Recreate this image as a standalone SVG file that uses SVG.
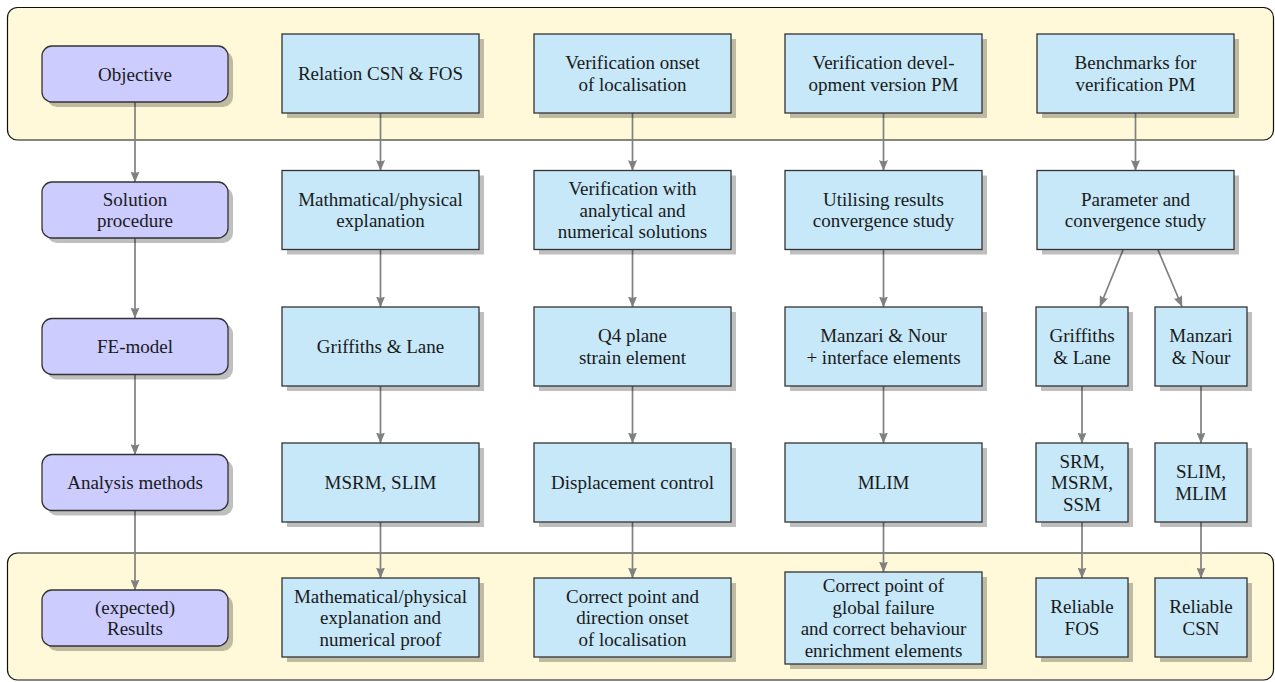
<svg xmlns="http://www.w3.org/2000/svg" width="1275" height="682" viewBox="0 0 1275 682" font-family="Liberation Serif, DejaVu Serif, serif">
<style>
.panel{fill:#fff9d9;stroke:#111;stroke-width:1.2}
.sh{fill:#000;fill-opacity:0.25}
.b{fill:#c6e8f8;stroke:#333;stroke-width:1.3}
.p{fill:#ccccff;stroke:#333;stroke-width:1.3}
text{font-size:19px;fill:#1a1a1a;text-anchor:middle}
.c line{stroke:#808080;stroke-width:1.7;marker-end:url(#ah)}
</style>
<defs>
<marker id="ah" markerUnits="userSpaceOnUse" markerWidth="11" markerHeight="9" viewBox="0 0 11 9" refX="10.5" refY="4.5" orient="auto">
<path d="M0,0 L11,4.5 L0,9 Q2.5,4.5 0,0 Z" fill="#808080"/>
</marker>
</defs>
<rect rx="10" ry="10" class="panel" x="7.5" y="7.5" width="1266" height="132.5"/>
<rect rx="10" ry="10" class="panel" x="7.5" y="553" width="1266" height="127"/>

<g class="c">
<line x1="135" y1="102" x2="135" y2="182"/>
<line x1="135" y1="238" x2="135" y2="318"/>
<line x1="135" y1="374.5" x2="135" y2="454.5"/>
<line x1="135" y1="510.5" x2="135" y2="590"/>

<line x1="380.5" y1="113" x2="380.5" y2="170.5"/>
<line x1="380.5" y1="249.5" x2="380.5" y2="307"/>
<line x1="380.5" y1="386" x2="380.5" y2="443"/>
<line x1="380.5" y1="522" x2="380.5" y2="578"/>

<line x1="632.5" y1="113" x2="632.5" y2="170.5"/>
<line x1="632.5" y1="249.5" x2="632.5" y2="307"/>
<line x1="632.5" y1="386" x2="632.5" y2="443"/>
<line x1="632.5" y1="522" x2="632.5" y2="578"/>

<line x1="883.5" y1="113" x2="883.5" y2="170.5"/>
<line x1="883.5" y1="249.5" x2="883.5" y2="307"/>
<line x1="883.5" y1="386" x2="883.5" y2="443"/>
<line x1="883.5" y1="522" x2="883.5" y2="572"/>

<line x1="1135.5" y1="113" x2="1135.5" y2="170.5"/>
<line x1="1123" y1="250" x2="1100" y2="306.5"/>
<line x1="1158" y1="250" x2="1182" y2="306.5"/>
<line x1="1082" y1="386" x2="1082" y2="443"/>
<line x1="1201" y1="386" x2="1201" y2="443"/>
<line x1="1082" y1="522" x2="1082" y2="578"/>
<line x1="1201" y1="522" x2="1201" y2="578"/>
</g>

<!-- left column -->
<g id="objective"><rect class="sh" x="47" y="51" width="186" height="56" rx="10"/><rect class="p" x="42" y="46" width="186" height="56" rx="10"/><text x="135" y="80.5">Objective</text></g>
<g id="solution"><rect class="sh" x="47" y="187" width="186" height="56" rx="10"/><rect class="p" x="42" y="182" width="186" height="56" rx="10"/><text x="135" y="205.75">Solution</text><text x="135" y="227.25">procedure</text></g>
<g id="femodel"><rect class="sh" x="47" y="323.5" width="186" height="56" rx="10"/><rect class="p" x="42" y="318.5" width="186" height="56" rx="10"/><text x="135" y="353">FE-model</text></g>
<g id="analysis"><rect class="sh" x="47" y="459.5" width="186" height="56" rx="10"/><rect class="p" x="42" y="454.5" width="186" height="56" rx="10"/><text x="135" y="489">Analysis methods</text></g>
<g id="results"><rect class="sh" x="47" y="595" width="186" height="56" rx="10"/><rect class="p" x="42" y="590" width="186" height="56" rx="10"/><text x="135" y="613.75">(expected)</text><text x="135" y="635.25">Results</text></g>

<!-- row 1 -->
<g id="r1c1"><rect class="sh" x="287" y="39" width="197" height="79"/><rect class="b" x="282" y="34" width="197" height="79"/><text x="380.5" y="80">Relation CSN &amp; FOS</text></g>
<g id="r1c2"><rect class="sh" x="539" y="39" width="197" height="79"/><rect class="b" x="534" y="34" width="197" height="79"/><text x="632.5" y="69.25">Verification onset</text><text x="632.5" y="90.75">of localisation</text></g>
<g id="r1c3"><rect class="sh" x="790" y="39" width="197" height="79"/><rect class="b" x="785" y="34" width="197" height="79"/><text x="883.5" y="69.25">Verification devel-</text><text x="883.5" y="90.75">opment version PM</text></g>
<g id="r1c4"><rect class="sh" x="1042" y="39" width="197" height="79"/><rect class="b" x="1037" y="34" width="197" height="79"/><text x="1135.5" y="69.25">Benchmarks for</text><text x="1135.5" y="90.75">verification PM</text></g>

<!-- row 2 -->
<g id="r2c1"><rect class="sh" x="287" y="175.5" width="197" height="79"/><rect class="b" x="282" y="170.5" width="197" height="79"/><text x="380.5" y="205.75">Mathmatical/physical</text><text x="380.5" y="227.25">explanation</text></g>
<g id="r2c2"><rect class="sh" x="539" y="175.5" width="197" height="79"/><rect class="b" x="534" y="170.5" width="197" height="79"/><text x="632.5" y="195">Verification with</text><text x="632.5" y="216.5">analytical and</text><text x="632.5" y="238">numerical solutions</text></g>
<g id="r2c3"><rect class="sh" x="790" y="175.5" width="197" height="79"/><rect class="b" x="785" y="170.5" width="197" height="79"/><text x="883.5" y="205.75">Utilising results</text><text x="883.5" y="227.25">convergence study</text></g>
<g id="r2c4"><rect class="sh" x="1042" y="175.5" width="197" height="79"/><rect class="b" x="1037" y="170.5" width="197" height="79"/><text x="1135.5" y="205.75">Parameter and</text><text x="1135.5" y="227.25">convergence study</text></g>

<!-- row 3 -->
<g id="r3c1"><rect class="sh" x="287" y="312" width="197" height="79"/><rect class="b" x="282" y="307" width="197" height="79"/><text x="380.5" y="353">Griffiths &amp; Lane</text></g>
<g id="r3c2"><rect class="sh" x="539" y="312" width="197" height="79"/><rect class="b" x="534" y="307" width="197" height="79"/><text x="632.5" y="342.25">Q4 plane</text><text x="632.5" y="363.75">strain element</text></g>
<g id="r3c3"><rect class="sh" x="790" y="312" width="197" height="79"/><rect class="b" x="785" y="307" width="197" height="79"/><text x="883.5" y="342.25">Manzari &amp; Nour</text><text x="883.5" y="363.75">+ interface elements</text></g>
<g id="r3c4a"><rect class="sh" x="1041" y="312" width="92" height="79"/><rect class="b" x="1036" y="307" width="92" height="79"/><text x="1082" y="342.25">Griffiths</text><text x="1082" y="363.75">&amp; Lane</text></g>
<g id="r3c4b"><rect class="sh" x="1160" y="312" width="92" height="79"/><rect class="b" x="1155" y="307" width="92" height="79"/><text x="1201" y="342.25">Manzari</text><text x="1201" y="363.75">&amp; Nour</text></g>

<!-- row 4 -->
<g id="r4c1"><rect class="sh" x="287" y="448" width="197" height="79"/><rect class="b" x="282" y="443" width="197" height="79"/><text x="380.5" y="489">MSRM, SLIM</text></g>
<g id="r4c2"><rect class="sh" x="539" y="448" width="197" height="79"/><rect class="b" x="534" y="443" width="197" height="79"/><text x="632.5" y="489">Displacement control</text></g>
<g id="r4c3"><rect class="sh" x="790" y="448" width="197" height="79"/><rect class="b" x="785" y="443" width="197" height="79"/><text x="883.5" y="489">MLIM</text></g>
<g id="r4c4a"><rect class="sh" x="1041" y="448" width="92" height="79"/><rect class="b" x="1036" y="443" width="92" height="79"/><text x="1082" y="467.5">SRM,</text><text x="1082" y="489">MSRM,</text><text x="1082" y="510.5">SSM</text></g>
<g id="r4c4b"><rect class="sh" x="1160" y="448" width="92" height="79"/><rect class="b" x="1155" y="443" width="92" height="79"/><text x="1201" y="478.25">SLIM,</text><text x="1201" y="499.75">MLIM</text></g>

<!-- row 5 -->
<g id="r5c1"><rect class="sh" x="287" y="583" width="197" height="79"/><rect class="b" x="282" y="578" width="197" height="79"/><text x="380.5" y="602.5">Mathematical/physical</text><text x="380.5" y="624">explanation and</text><text x="380.5" y="645.5">numerical proof</text></g>
<g id="r5c2"><rect class="sh" x="539" y="583" width="197" height="79"/><rect class="b" x="534" y="578" width="197" height="79"/><text x="632.5" y="602.5">Correct point and</text><text x="632.5" y="624">direction onset</text><text x="632.5" y="645.5">of localisation</text></g>
<g id="r5c3"><rect class="sh" x="790" y="577" width="197" height="92"/><rect class="b" x="785" y="572" width="197" height="92"/><text x="883.5" y="592.25">Correct point of</text><text x="883.5" y="613.75">global failure</text><text x="883.5" y="635.25">and correct behaviour</text><text x="883.5" y="656.75">enrichment elements</text></g>
<g id="r5c4a"><rect class="sh" x="1041" y="583" width="92" height="79"/><rect class="b" x="1036" y="578" width="92" height="79"/><text x="1082" y="613.25">Reliable</text><text x="1082" y="634.75">FOS</text></g>
<g id="r5c4b"><rect class="sh" x="1160" y="583" width="92" height="79"/><rect class="b" x="1155" y="578" width="92" height="79"/><text x="1201" y="613.25">Reliable</text><text x="1201" y="634.75">CSN</text></g>
</svg>
